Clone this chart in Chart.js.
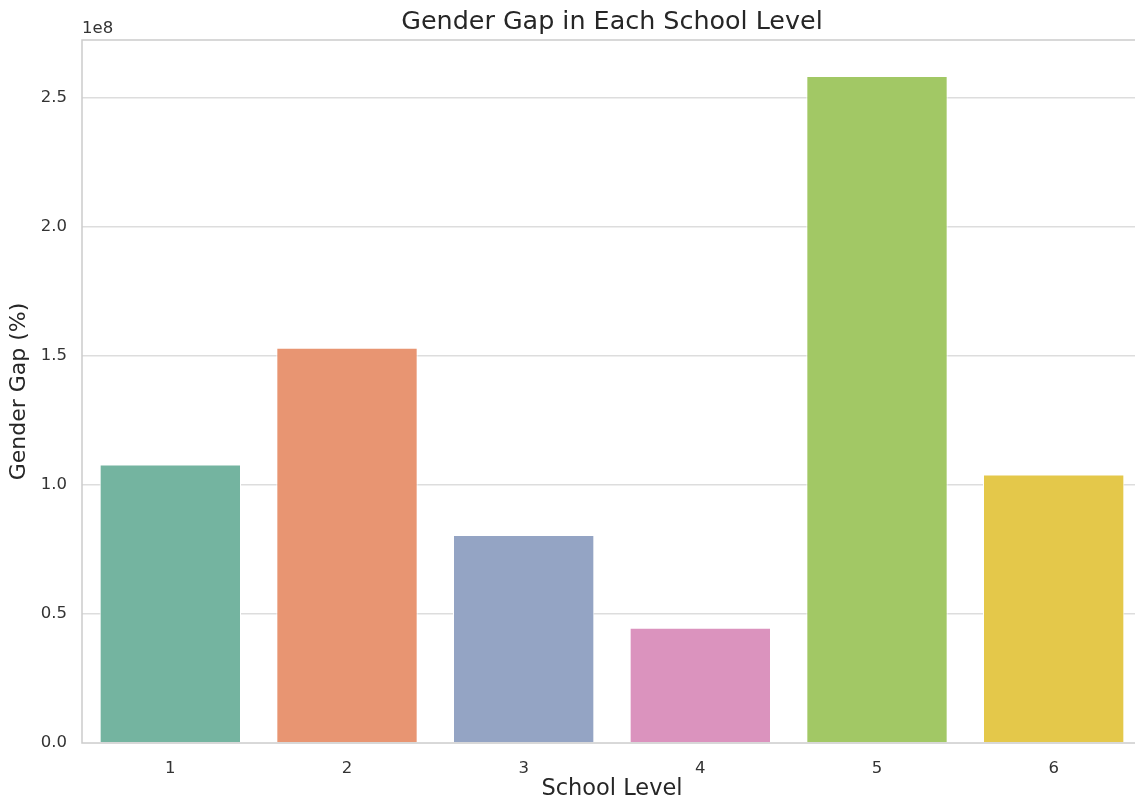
<!DOCTYPE html>
<html>
<head>
<meta charset="utf-8">
<script src="https://cdn.jsdelivr.net/npm/chart.js@4/dist/chart.umd.min.js"></script>
<style>
  html, body { margin: 0; padding: 0; background: #fff; overflow: hidden; }
  #chart { display: block; }
</style>
</head>
<body>
<!-- the plot runs a few pixels past the right edge of the window, like the reference -->
<canvas id="chart" width="1143" height="803"></canvas>
<script>
// School levels and gender gap values (units of 1e8)
const schoolLevels = ['1', '2', '3', '4', '5', '6'];
const genderGap = [1.080e8, 1.532e8, 0.806e8, 0.447e8, 2.585e8, 1.041e8];
const barColors = ['#74b4a0', '#e89572', '#94a4c4', '#db93be', '#a2c865', '#e4c84a'];
const yTicks = [0, 0.5e8, 1.0e8, 1.5e8, 2.0e8, 2.5e8];
const yMax = 2.725e8;

const FONT = '"DejaVu Sans", sans-serif';

// draws the title, the "1e8" offset text and the box around the plot
const framePlugin = {
    id: 'frame',
    afterDraw(chart) {
        const { ctx, chartArea } = chart;
        ctx.save();
        ctx.strokeStyle = '#cccccc';
        ctx.lineWidth = 1.5;
        ctx.strokeRect(chartArea.left, chartArea.top, chartArea.right - chartArea.left, chartArea.bottom - chartArea.top);

        ctx.fillStyle = '#333333';
        ctx.font = '16.5px ' + FONT;
        ctx.textAlign = 'left';
        ctx.textBaseline = 'bottom';
        ctx.fillText('1e8', chartArea.left, chartArea.top - 3);

        ctx.font = '25.4px ' + FONT;
        ctx.textAlign = 'center';
        ctx.textBaseline = 'middle';
        ctx.fillStyle = '#262626';
        ctx.fillText('Gender Gap in Each School Level', (chartArea.left + chartArea.right) / 2, 22);
        ctx.restore();
    }
};

new Chart(document.getElementById('chart').getContext('2d'), {
    type: 'bar',
    data: {
        labels: schoolLevels,
        datasets: [{
            data: genderGap,
            backgroundColor: barColors,
            borderColor: '#ffffff',
            borderWidth: 1,
            barPercentage: 0.8,
            categoryPercentage: 1.0
        }]
    },
    options: {
        responsive: false,
        animation: false,
        layout: { padding: { top: 40, right: 1, left: 0, bottom: 0 } },
        plugins: {
            legend: { display: false },
            tooltip: { enabled: false }
        },
        scales: {
            x: {
                grid: { display: false, drawTicks: false },
                border: { display: false },
                ticks: { color: '#333333', font: { family: FONT, size: 16.5 }, padding: 16 },
                title: {
                    display: true,
                    text: 'School Level',
                    color: '#262626',
                    font: { family: FONT, size: 22.5 },
                    padding: { top: 1, bottom: 0 }
                },
                afterFit(scale) { scale.height = 60; }
            },
            y: {
                min: 0,
                max: yMax,
                afterBuildTicks(scale) {
                    scale.ticks = yTicks.map(v => ({ value: v }));
                },
                grid: {
                    drawTicks: false,
                    lineWidth: 1.5,
                    color: ctx => (ctx.tick && ctx.tick.value > 0) ? '#dddddd' : 'rgba(0,0,0,0)'
                },
                border: { display: false },
                ticks: {
                    color: '#333333',
                    font: { family: FONT, size: 16.5 },
                    padding: 15,
                    callback: v => (v / 1e8).toFixed(1)
                },
                title: {
                    display: true,
                    text: 'Gender Gap (%)',
                    color: '#262626',
                    font: { family: FONT, size: 22 },
                    padding: { top: 6, bottom: 0 }
                },
                afterFit(scale) { scale.width = 82; }
            }
        }
    },
    plugins: [framePlugin]
});
</script>
</body>
</html>
